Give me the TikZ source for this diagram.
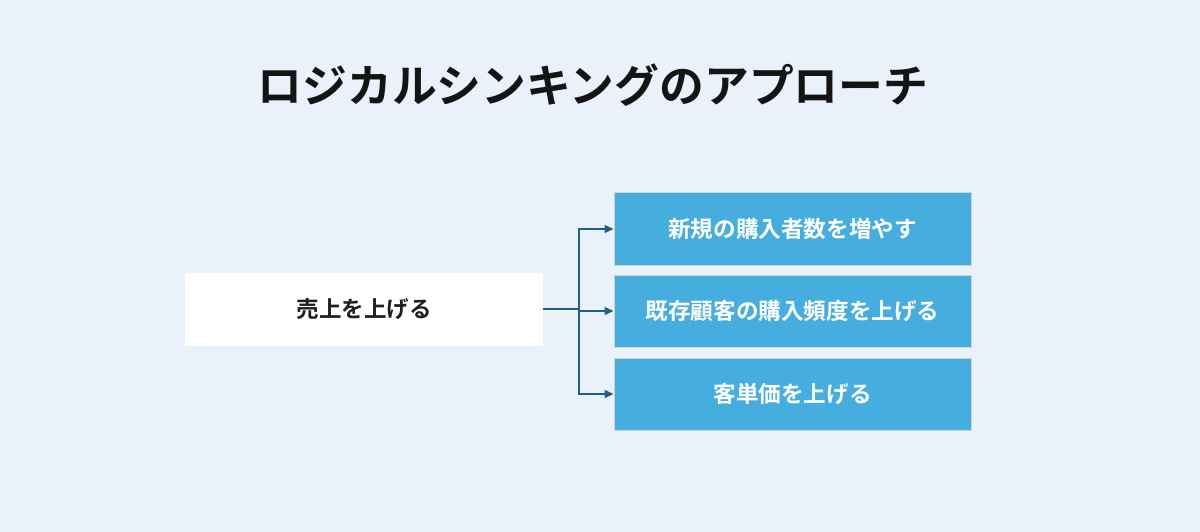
\documentclass[tikz,border=0pt]{standalone}
\usepackage{fontspec}
\newfontfamily\cjk{Noto Sans CJK JP}
\newfontfamily\cjkb{Noto Sans CJK JP Bold}
\usetikzlibrary{arrows.meta}
\definecolor{bg}{HTML}{EAF1FA}
\definecolor{boxblue}{HTML}{45AEDF}
\definecolor{boxedge}{HTML}{C9D6D6}
\definecolor{conn}{HTML}{1F5F85}
\tikzset{
  rootbox/.style={fill=white, draw=none, minimum width=358pt, minimum height=73pt, inner sep=0pt,
    font=\cjkb\fontsize{22.5}{26}\selectfont, text=black!88},
  leafbox/.style={fill=boxblue, draw=boxedge, line width=1pt, minimum width=357pt, minimum height=72pt, inner sep=0pt,
    font=\cjkb\fontsize{22.6}{26}\selectfont, text=white},
  link/.style={draw=conn, line width=1.4pt},
  arrowlink/.style={link, -{Triangle[length=9pt,width=8pt]}}
}
\begin{document}
\begin{tikzpicture}[x=1pt,y=-1pt]
\useasboundingbox[fill=bg] (0,0) rectangle (1200,532);
\node[font=\cjkb\fontsize{44.8}{50}\selectfont, text=black!92] (title) at (593,85) {ロジカルシンキングのアプローチ};
\node[rootbox] (root) at (364,309) {売上を上げる};
\node[leafbox] (a) at (792.5,229) {新規の購入者数を増やす};
\node[leafbox] (b) at (792.5,311) {既存顧客の購入頻度を上げる};
\node[leafbox] (c) at (792.5,394) {客単価を上げる};
\coordinate (j) at (579,309);
\draw[link] (root.east) -- (j);
\draw[arrowlink] (j) |- (a.west);
\draw[arrowlink] (j) |- (b.west);
\draw[arrowlink] (j) |- (c.west);
\end{tikzpicture}
\end{document}
